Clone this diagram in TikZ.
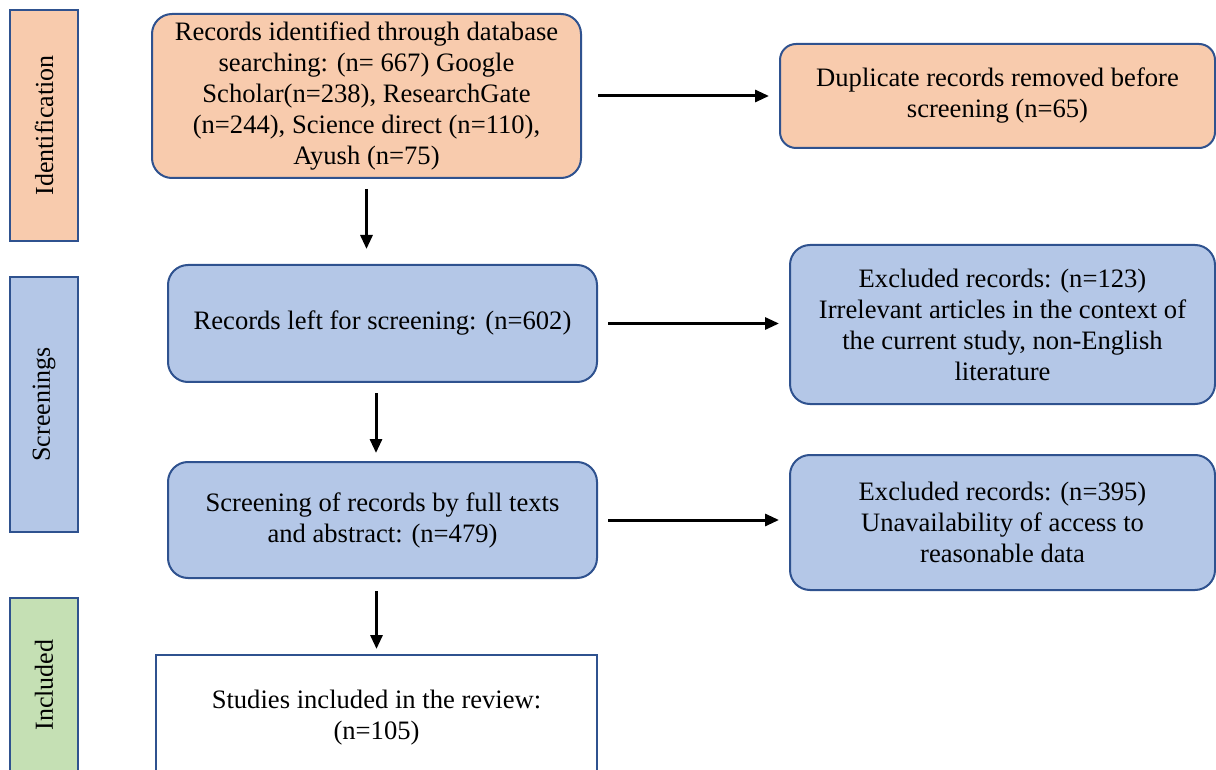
\documentclass[tikz,border=0pt]{standalone}
\usepackage{fontspec}
\setmainfont{Liberation Serif}
\usetikzlibrary{
    arrows.meta,
    positioning,
    calc
}
\definecolor{peach}{HTML}{F8CBAD}
\definecolor{paleblue}{HTML}{B4C7E7}
\definecolor{palegreen}{HTML}{C5E0B4}
\definecolor{edgeblue}{HTML}{2F528F}
\tikzset{
    stage/.style = {
        rectangle,
        draw=edgeblue,
        line width=1pt,
        minimum width=34pt,
        inner sep=0pt,
        font=\fontsize{13}{15.5}\selectfont
    },
    record/.style = {
        rectangle,
        rounded corners=10pt,
        draw=edgeblue,
        line width=1pt,
        align=center,
        inner sep=0pt,
        font=\fontsize{13.3}{15.5}\selectfont
    },
    arrow/.style = {
        -{Triangle[length=7pt,width=6pt]},
        line width=1.5pt
    }
}
\begin{document}
\begin{tikzpicture}[x=0.5pt,y=-0.5pt]
\useasboundingbox (0,0) rectangle (1216,770);

% stage labels
\node (ident) [stage,fill=peach,minimum height=115.5pt] at (44,125.5) {\rotatebox{90}{Identification}};
\node (screen) [stage,fill=paleblue,minimum height=127.5pt] at (44,404.5) {\rotatebox{90}{Screenings}};
\node (incl) [stage,fill=palegreen,minimum height=87pt] at (44,685) {\rotatebox{90}{Included}};

% records
\node (found) [record,fill=peach,minimum width=214.5pt,minimum height=82pt] at (366.5,96)
    {Records identified through database\\ searching: (n= 667) Google\\ Scholar(n=238), ResearchGate\\ (n=244), Science direct (n=110),\\ Ayush (n=75)};
\node (dupl) [record,fill=peach,rounded corners=8pt,minimum width=217.5pt,minimum height=52pt] at (997.5,96)
    {Duplicate records removed before\\ screening (n=65)};
\node (left) [record,fill=paleblue,minimum width=214.5pt,minimum height=58.5pt] at (382.5,323.5)
    {Records left for screening: (n=602)};
\node (excla) [record,fill=paleblue,minimum width=212.5pt,minimum height=79.5pt] at (1002.5,324.5)
    {Excluded records: (n=123)\\ Irrelevant articles in the context of\\ the current study, non-English\\ literature};
\node (full) [record,fill=paleblue,minimum width=214.5pt,minimum height=58pt] at (382.5,520)
    {Screening of records by full texts\\ and abstract: (n=479)};
\node (exclb) [record,fill=paleblue,minimum width=212.5pt,minimum height=67.5pt] at (1002.5,522.5)
    {Excluded records: (n=395)\\ Unavailability of access to\\ reasonable data};
\node (study) [record,fill=white,rounded corners=0pt,minimum width=220.5pt,minimum height=62.5pt] at (376.5,717.5)
    {Studies included in the review:\\ (n=105)};

% connectors
\draw[arrow,shorten <=8pt,shorten >=5pt] (found.east) -- (dupl.west);
\draw[arrow,shorten <=5pt,shorten >=7.5pt] (found.south) -- (found.south |- left.north);
\draw[arrow,shorten <=5pt,shorten >=5pt] (left.east) -- (left.east -| excla.west);
\draw[arrow,shorten <=5pt,shorten >=4pt] ([xshift=-3.25pt]left.south) -- ([xshift=-3.25pt]left.south |- full.north);
\draw[arrow,shorten <=5pt,shorten >=5pt] (full.east) -- (full.east -| exclb.west);
\draw[arrow,shorten <=6pt,shorten >=2.5pt] (full.south -| study.north) -- (study.north);
\end{tikzpicture}
\end{document}
